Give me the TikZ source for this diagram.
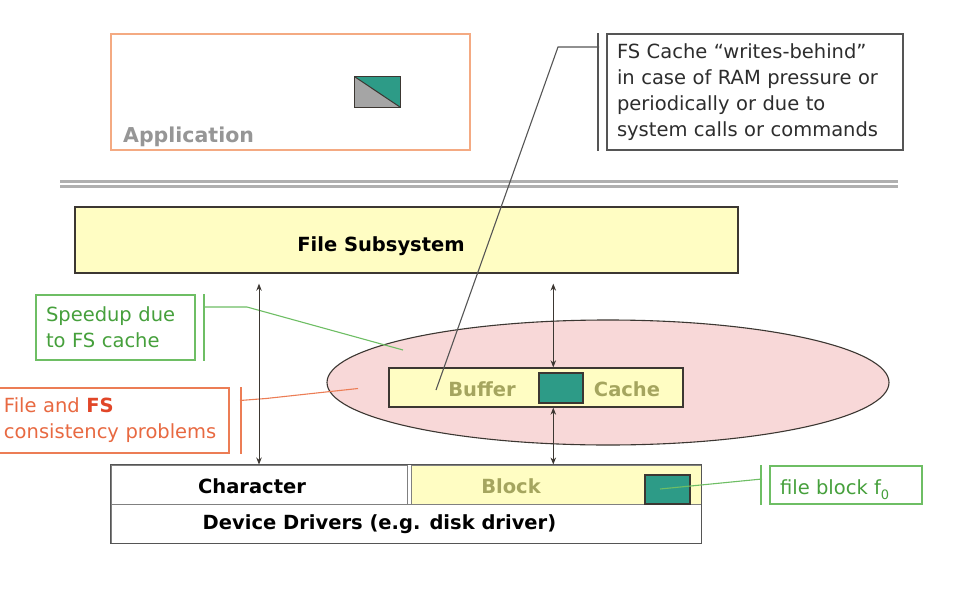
\documentclass[tikz,border=0pt]{standalone}
\usepackage{fontspec}
\setmainfont{DejaVu Sans}
\usetikzlibrary{arrows.meta,calc,shapes.geometric}
\definecolor{apporange}{RGB}{244,170,130}
\definecolor{consorange}{RGB}{236,125,85}
\definecolor{constext}{RGB}{232,105,65}
\definecolor{fsred}{RGB}{225,70,40}
\definecolor{gboxc}{RGB}{110,190,100}
\definecolor{gtext}{RGB}{70,160,60}
\definecolor{ylw}{RGB}{255,253,195}
\definecolor{pnk}{RGB}{248,216,216}
\definecolor{tealc}{RGB}{45,155,135}
\definecolor{olive}{RGB}{165,165,95}
\definecolor{appgray}{RGB}{150,150,150}
\definecolor{icongray}{RGB}{165,165,165}
\definecolor{notegray}{RGB}{85,85,85}
\definecolor{notetext}{RGB}{45,45,45}
\definecolor{sepgray}{RGB}{175,175,175}
\definecolor{dk}{RGB}{60,55,50}
\tikzset{
  big/.style={font=\fontsize{19.5}{26}\selectfont},
  bigb/.style={font=\fontsize{19.5}{26}\selectfont\bfseries},
  appbox/.style={draw=apporange,line width=1.3pt,inner sep=0pt},
  notebox/.style={draw=notegray,line width=1.3pt,big,text=notetext,align=left,inner xsep=10pt,inner ysep=0pt},
  gbox/.style={draw=gboxc,line width=1.3pt,big,text=gtext,align=left,inner xsep=10pt,inner ysep=0pt},
  obox/.style={draw=consorange,line width=1.3pt,big,text=constext,align=left,inner xsep=10pt,inner ysep=0pt},
  ybox/.style={draw=dk,fill=ylw,line width=1.4pt,inner sep=0pt},
  cellbox/.style={draw=gray,line width=1pt,inner sep=0pt},
  tealsq/.style={draw=dk,fill=tealc,line width=1.2pt,inner sep=0pt},
  dbl/.style={draw=dk,line width=0.9pt,{Stealth[length=7pt,width=5.5pt]}-{Stealth[length=7pt,width=5.5pt]}},
  gline/.style={draw=gboxc,line width=1.1pt},
  oline/.style={draw=consorange,line width=1.1pt},
  nline/.style={draw=notegray,line width=1.1pt},
  gbar/.style={draw=gboxc,line width=1.8pt},
  obar/.style={draw=consorange,line width=1.8pt},
  nbar/.style={draw=notegray,line width=1.8pt},
}
\begin{document}
\begin{tikzpicture}[x=1pt,y=-1pt]
\useasboundingbox[fill=white] (0,0) rectangle (964,608);

% Application
\node[appbox,minimum width=359pt,minimum height=116pt] (app) at (290.5,92) {};
\node[text=appgray,anchor=base west,inner sep=0pt,font=\fontsize{20.5}{26}\selectfont\bfseries] (apptxt) at (123,142) {Application};
\node[minimum width=45pt,minimum height=30pt,inner sep=0pt] (icon) at (377.5,92) {};
\fill[icongray] (icon.north west) -- (icon.south west) -- (icon.south east) -- cycle;
\fill[tealc] (icon.north west) -- (icon.north east) -- (icon.south east) -- cycle;
\draw[dk,line width=1.2pt] (icon.north west) rectangle (icon.south east);
\draw[dk,line width=1pt] (icon.north west) -- (icon.south east);

% note
\node[notebox,text width=276pt,minimum height=116pt] (note) at (755,92)
  {FS Cache “writes-behind”\\in case of RAM pressure or\\periodically or due to\\system calls or commands};
\draw[nbar] ($(note.north west)+(-8,0)$) -- ($(note.south west)+(-8,0)$);

% separator
\draw[sepgray,line width=2.5pt] (60,181.5) -- (898,181.5);
\draw[sepgray,line width=3pt] (60,186) -- (898,186);

% File subsystem
\node[ybox,minimum width=663pt,minimum height=66pt] (fs) at (406.5,240) {};
\node[bigb,anchor=base,inner sep=0pt] (fstxt) at (381,251) {File Subsystem};

% ellipse
\node[ellipse,draw=dk,fill=pnk,line width=1.1pt,minimum width=562pt,minimum height=125pt,inner sep=0pt] (ell) at (608,382.5) {};

% callout lines
\coordinate (spj) at (203,307);
\coordinate (spe) at (403,350);
\draw[gline] (spj) -- (247,307) -- (spe);
\coordinate (cj) at (240,400.5);
\coordinate (ce) at (358,388.5);
\draw[oline] (cj) -- (266,398.5) -- (ce);

% buffer cache
\node[ybox,minimum width=294pt,minimum height=39pt] (buf) at (536,387.5) {};
\node[tealsq,minimum width=44pt,minimum height=30pt] (bt) at (561,388) {};
\node[bigb,text=olive,anchor=base,inner sep=0pt] (buftxt) at (482,396) {Buffer};
\node[bigb,text=olive,anchor=base,inner sep=0pt] (cachetxt) at (627,396) {Cache};

% note connector
\coordinate (nj) at (599,47);
\coordinate (ne) at (436,390);
\draw[nline] (nj) -- (558,47) -- (ne);

% speedup callout
\node[gbox,text width=139pt,minimum height=65pt] (sp) at (115.5,327.5) {Speedup due\\to FS cache};
\draw[gbar] ($(sp.north east)+(8,0)$) -- ($(sp.south east)+(8,0)$);

% consistency callout
\node[obox,text width=215pt,minimum height=65pt] (cons) at (111.5,420.5) {File and {\bfseries\color{fsred}FS}\\consistency problems};
\draw[obar] ($(cons.north east)+(11,0)$) -- ($(cons.south east)+(11,0)$);

% device drivers
\node[cellbox,fill=white,minimum width=296pt,minimum height=39pt] (chr) at (259,484.5) {};
\node[cellbox,fill=ylw,minimum width=290pt,minimum height=39pt] (blk) at (556,484.5) {};
\node[cellbox,fill=white,minimum width=590pt,minimum height=39pt] (dd) at (406,523.5) {};
\draw[notegray,line width=1.4pt] (chr.north west) rectangle (dd.south east);
\node[bigb,anchor=base,inner sep=0pt] (chrtxt) at (252,493) {Character};
\node[bigb,text=olive,anchor=base,inner sep=0pt] (blktxt) at (511,493) {Block};
\node[bigb,anchor=base,inner sep=0pt] (ddtxt) at (379.5,529) {Device Drivers (e.g. disk driver)};
\node[tealsq,minimum width=45pt,minimum height=29pt] (bkt) at (667.5,489.5) {};

% arrows
\draw[dbl] ($(fs.south -| chr.north)+(0,10)$) -- (chr.north);
\coordinate (a1) at ($(buf.north west)+(165,0)$);
\coordinate (a2) at ($(buf.south west)+(165,0)$);
\draw[dbl] ($(a1 |- fs.south)+(0,10)$) -- (a1);
\draw[dbl] (a2) -- (a2 |- blk.north);

% file block f0
\node[gbox,minimum width=152pt,minimum height=38pt] (f0) at (846,485) {};
\node[big,text=gtext,anchor=base west,inner sep=0pt] (f0txt) at (780,494) {file block f\raisebox{-5pt}{\fontsize{13}{13}\selectfont 0}};
\draw[gbar] ($(f0.north west)+(-8,0)$) -- ($(f0.south west)+(-8,0)$);
\coordinate (fj) at (762,479);
\coordinate (fe) at (660,489);
\draw[gline] (fj) -- (fe);
\end{tikzpicture}
\end{document}
